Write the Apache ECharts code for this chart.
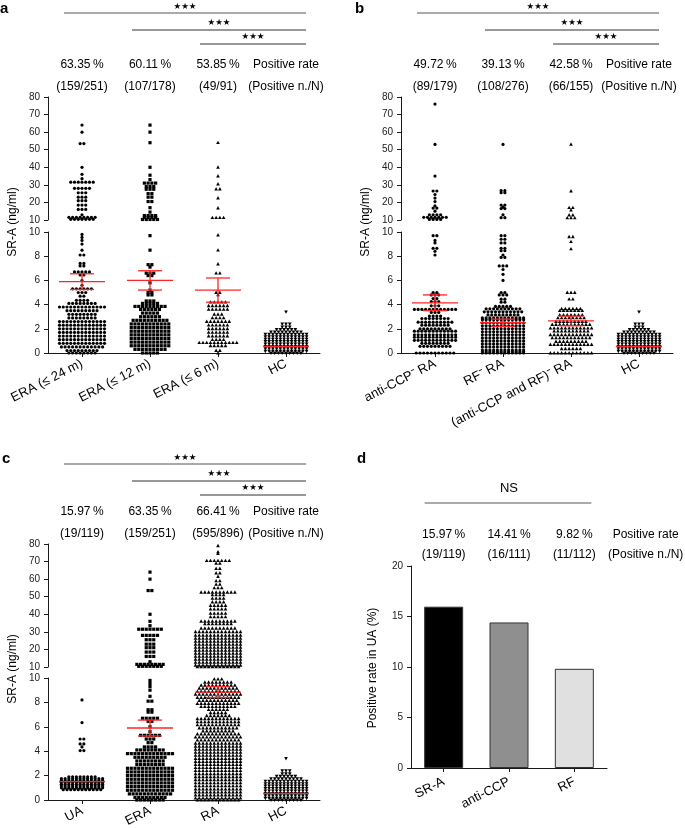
<!DOCTYPE html>
<html><head><meta charset="utf-8">
<script src="https://cdn.jsdelivr.net/npm/echarts@6/dist/echarts.min.js"></script>
<style>html,body{margin:0;padding:0;background:#fff}#c{width:685px;height:828px}</style>
</head><body><div id="c"></div>
<script>
// ---------------- DATA ----------------
const catsA = ['ERA (\u2264 24 m)', 'ERA (\u2264 12 m)', 'ERA (\u2264 6 m)', 'HC'];
const catsB = ['anti-CCP\u207B RA', 'RF\u207B RA', '(anti-CCP and RF)\u207B RA', 'HC'];
const catsC = ['UA', 'ERA', 'RA', 'HC'];
const catsD = ['SR-A', 'anti-CCP', 'RF'];

const upperTicks = [10, 20, 30, 40, 50, 60, 70, 80];
const lowerTicks = [0, 2, 4, 6, 8, 10];
const dTicks = [0, 5, 10, 15, 20];

// rows of the binned dot plots: [SR-A value (ng/ml), number of dots in the row]
const era24 = [[64,1],[60,1],[53.5,2],[40,1],[36,1],[33.5,1],[31.5,7],[28,5],[25.5,3],[23,3],[21,3],[18.5,3],[16,3],[13,1],[11.5,8],[10.4,7],
  [9.8,1],[9.55,1],[9.3,1],[9.0,1],[8.5,1],[8.1,2],[7.4,2],[7.2,2],[6.7,5],[6.45,2],[6.0,1],[5.6,1],[5.3,6],[5.0,3],[4.7,2],[4.35,4],[4.1,8],[3.8,13],[3.5,9],[3.2,8],[2.9,8],[2.6,13],[2.3,13],[2.0,13],[1.7,13],[1.4,13],[1.1,13],[0.8,13],[0.5,12],[0.2,9],[0.0,8]];
const era12 = [[64,1],[60,1],[54,1],[40,1],[35.5,1],[33,1],[31,4],[29,3],[27.5,3],[25,2],[23,2],[20.5,2],[17,1],[14.5,1],[12.5,4],[11.5,4],[10.3,5],
  [9.7,1],[8.5,1],[7.3,2],[7.1,1],[6.6,3],[6.4,2],[5.8,1],[5.2,1],[5.0,2],[4.8,2],[4.3,3],[4.1,5],[3.85,9],[3.6,6],[3.3,5],[3.0,6],[2.7,10],[2.4,11],[2.1,11],[1.8,11],[1.5,11],[1.2,11],[0.9,11],[0.6,11],[0.3,9],[0.0,5]];
const era6 = [[54,1],[40,1],[35,1],[30.5,1],[27.6,2],[22.5,1],[16.8,1],[11.3,4],
  [9.75,1],[8.5,1],[7.35,1],[6.6,2],[5.0,2],[4.8,1],[4.2,5],[3.9,6],[3.6,6],[3.2,3],[2.9,4],[2.6,7],[2.3,6],[2.0,6],[1.7,6],[1.4,6],[1.1,4],[0.85,11],[0.6,5],[0.2,2],[0.0,1]];
const hc = [[3.4,1],[2.4,3],[2.15,3],[1.95,6],[1.75,9],[1.55,12],[1.35,12],[1.15,12],[0.95,12],[0.75,12],[0.55,12],[0.35,12],[0.15,12],[0.0,9]];
const antiCcpNeg = [[76,1],[53,1],[35,1],[26.5,2],[24.5,1],[22.5,1],[20.5,1],[18,1],[16.8,2],[15,1],[13,4],[11.5,7],[10.3,4],
  [9.7,2],[9.3,1],[9.1,1],[8.65,2],[8.4,1],[8.1,1],[5.0,2],[4.8,3],[4.5,2],[4.25,3],[3.9,3],[3.6,12],[3.35,3],[3.05,4],[2.85,8],[2.55,10],[2.3,8],[2.0,9],[1.8,12],[1.5,12],[1.3,12],[1.05,12],[0.8,8],[0.55,9],[0.0,11]];
const rfNeg = [[53,1],[26.7,2],[25.5,2],[18.5,2],[17.3,1],[16.5,2],[13,1],[11.3,2],
  [9.7,2],[9.4,2],[9.1,2],[8.65,2],[8.45,2],[8.1,1],[7.9,2],[7.2,3],[6.9,1],[6.5,1],[6.0,1],[5.0,2],[4.8,3],[4.45,2],[4.2,2],[3.85,5],[3.65,10],[3.4,11],[3.15,9],[2.9,12],[2.75,12],[2.5,12],[2.25,12],[2.0,12],[1.75,12],[1.5,12],[1.25,12],[1.0,12],[0.75,12],[0.5,12],[0.25,12],[0.1,12],[0.0,12]];
const doubleNeg = [[53,1],[26.5,1],[17,2],[15.6,1],[12.8,2],[11.2,3],
  [9.6,2],[9.2,1],[8.6,1],[5.0,3],[4.45,2],[3.65,6],[3.5,7],[3.15,7],[2.9,8],[2.6,9],[2.35,11],[2.05,12],[1.8,10],[1.5,12],[1.25,11],[0.95,9],[0.7,12],[0.35,6],[0.0,12]];
const ua = [[8.2,1],[6.35,1],[5.0,2],[4.6,2],[4.35,1],[4.05,2],[1.9,8],[1.75,12],[1.6,12],[1.45,12],[1.3,12],[1.15,12],[1.0,12],[0.85,11]];
const ra = [[79,1],[75.5,1],[74.5,1],[70.5,7],[69,2],[66,2],[63.5,2],[61.5,1],[59,2],[57,2],[55,3],[52.5,10],[51,4],[49,4],[47,4],[45,5],[43,5],[40.5,5],[38.5,5],[36,10],[34.5,8],[32,10],[30,13],[28,13],[26.3,13],[24.6,13],[22.9,13],[21.2,13],[19.5,13],[17.8,13],[16.1,13],[14.4,13],[12.7,13],[11,13],[10.1,12],
  [9.9,3],[9.65,8],[9.4,10],[9.15,11],[8.9,12],[8.65,13],[8.4,12],[8.15,11],[7.9,12],[7.65,10],[7.4,6],[7.15,5],[6.9,7],[6.65,12],[6.4,12],[6.15,12],[5.9,11],[5.65,9],[5.4,12],[5.15,13],[4.9,12],[4.65,13],[4.4,13],[4.15,13],[3.9,13],[3.65,13],[3.4,13],[3.15,13],[2.9,13],[2.65,13],[2.4,13],[2.15,13],[1.9,13],[1.65,13],[1.4,13],[1.15,13],[0.9,13],[0.65,13],[0.4,13],[0.15,13],[0.0,12]];

// mean, lower SEM, upper SEM
const meansA = [[5.9,5.25,6.55],[6.0,5.2,6.8],[5.2,4.2,6.2],[0.55,0.55,0.55]];
const meansB = [[4.15,3.5,4.8],[2.5,2.2,2.8],[2.65,2.25,3.05],[0.55,0.55,0.55]];
const meansC = [[1.5,1.5,1.5],[5.9,5.25,6.55],[8.85,8.4,9.3],[0.55,0.55,0.55]];

const rateA = ['63.35\u2009%', '60.11\u2009%', '53.85\u2009%', 'Positive rate'];
const fracA = ['(159/251)', '(107/178)', '(49/91)', '(Positive n./N)'];
const rateB = ['49.72\u2009%', '39.13\u2009%', '42.58\u2009%', 'Positive rate'];
const fracB = ['(89/179)', '(108/276)', '(66/155)', '(Positive n./N)'];
const rateC = ['15.97\u2009%', '63.35\u2009%', '66.41\u2009%', 'Positive rate'];
const fracC = ['(19/119)', '(159/251)', '(595/896)', '(Positive n./N)'];
const rateD = ['15.97\u2009%', '14.41\u2009%', '9.82\u2009%', 'Positive rate'];
const fracD = ['(19/119)', '(16/111)', '(11/112)', '(Positive n./N)'];

const dValues = [15.97, 14.41, 9.82];

// ---------------- STYLE / LAYOUT ----------------
const FONT = '"Liberation Sans", Arial, Helvetica, sans-serif';
const INK = '#1a1a1a';
const RED = '#ff2424';
const dColors = ['#000000', '#8f8f8f', '#e0e0e0'];
const DOT_SP = 3.75;

const chart = echarts.init(document.getElementById('c'), null, {renderer: 'canvas', width: 685, height: 828});

const grids = [
  {left: 48, top: 97, width: 272, height: 123},
  {left: 48, top: 232, width: 272, height: 121},
  {left: 401, top: 97, width: 272, height: 123},
  {left: 401, top: 232, width: 272, height: 121},
  {left: 48, top: 544, width: 272, height: 123},
  {left: 48, top: 678, width: 272, height: 122},
  {left: 411, top: 566, width: 196, height: 202}
].map(g => Object.assign({containLabel: false, outerBoundsMode: 'none'}, g));

const lineSty = {color: INK, width: 1};
function yAxis(gi, ticks) {
  return {type: 'value', gridIndex: gi, min: ticks[0], max: ticks[ticks.length - 1], interval: ticks[1] - ticks[0],
    axisLine: {show: true, lineStyle: lineSty}, axisTick: {show: true, length: 4, lineStyle: lineSty},
    axisLabel: {fontSize: 10, color: '#222', margin: 8, fontFamily: FONT, showMinLabel: true, showMaxLabel: true},
    splitLine: {show: false}};
}
function xAxisShown(gi, cats, rot, margin) {
  return {type: 'category', gridIndex: gi, data: cats, boundaryGap: true,
    axisLine: {show: true, onZero: false, lineStyle: lineSty},
    axisTick: {show: true, alignWithLabel: true, length: 4, lineStyle: lineSty},
    axisLabel: {interval: 0, rotate: rot, fontSize: 13, color: '#000', margin: margin, fontFamily: FONT},
    splitLine: {show: false}};
}
function xAxisHidden(gi, cats) {
  return {type: 'category', gridIndex: gi, data: cats, boundaryGap: true, show: false};
}

function shapeEl(shape, x, y) {
  const st = {fill: '#000'};
  if (shape === 'circle') return {type: 'circle', shape: {cx: x, cy: y, r: 1.6}, style: st};
  if (shape === 'square') return {type: 'rect', shape: {x: x - 1.6, y: y - 1.6, width: 3.2, height: 3.2}, style: st};
  if (shape === 'up') return {type: 'polygon', shape: {points: [[x, y - 2.0], [x - 1.85, y + 1.4], [x + 1.85, y + 1.4]]}, style: st};
  return {type: 'polygon', shape: {points: [[x, y + 2.0], [x - 1.85, y - 1.4], [x + 1.85, y - 1.4]]}, style: st};
}
function makeRender(shape) {
  return function (params, api) {
    const c = api.value(0), v = api.value(1), n = api.value(2);
    const p = api.coord([c, v]);
    const kids = [];
    for (let i = 0; i < n; i++) kids.push(shapeEl(shape, p[0] + (i - (n - 1) / 2) * DOT_SP, p[1]));
    return {type: 'group', children: kids};
  };
}
function errRender(params, api) {
  const c = api.value(0), m = api.value(1), lo = api.value(2), hi = api.value(3);
  const pm = api.coord([c, m]), pl = api.coord([c, lo]), ph = api.coord([c, hi]);
  const st = {stroke: RED, lineWidth: 1.3};
  const kids = [{type: 'line', shape: {x1: pm[0] - 23, y1: pm[1], x2: pm[0] + 23, y2: pm[1]}, style: st}];
  if (hi > lo) {
    kids.push({type: 'line', shape: {x1: pl[0], y1: pl[1], x2: ph[0], y2: ph[1]}, style: st});
    kids.push({type: 'line', shape: {x1: pl[0] - 12, y1: pl[1], x2: pl[0] + 12, y2: pl[1]}, style: st});
    kids.push({type: 'line', shape: {x1: ph[0] - 12, y1: ph[1], x2: ph[0] + 12, y2: ph[1]}, style: st});
  }
  return {type: 'group', children: kids};
}

const series = [];
function addDots(rows, cat, shape, upIdx, lowIdx) {
  const up = rows.filter(r => r[0] >= 10).map(r => [cat, r[0], r[1]]);
  const lo = rows.filter(r => r[0] < 10).map(r => [cat, r[0], r[1]]);
  series.push({type: 'custom', xAxisIndex: upIdx, yAxisIndex: upIdx, data: up, renderItem: makeRender(shape), clip: false, z: 2, silent: true, animation: false});
  series.push({type: 'custom', xAxisIndex: lowIdx, yAxisIndex: lowIdx, data: lo, renderItem: makeRender(shape), clip: false, z: 2, silent: true, animation: false});
}
function addErr(means, lowIdx) {
  series.push({type: 'custom', xAxisIndex: lowIdx, yAxisIndex: lowIdx, data: means.map((m, i) => [i, m[0], m[1], m[2]]), renderItem: errRender, clip: false, z: 5, silent: true, animation: false});
}

addDots(era24, 0, 'circle', 0, 1); addDots(era12, 1, 'square', 0, 1); addDots(era6, 2, 'up', 0, 1); addDots(hc, 3, 'down', 0, 1);
addErr(meansA, 1);
addDots(antiCcpNeg, 0, 'circle', 2, 3); addDots(rfNeg, 1, 'circle', 2, 3); addDots(doubleNeg, 2, 'up', 2, 3); addDots(hc, 3, 'down', 2, 3);
addErr(meansB, 3);
addDots(ua, 0, 'circle', 4, 5); addDots(era24, 1, 'square', 4, 5); addDots(ra, 2, 'up', 4, 5); addDots(hc, 3, 'down', 4, 5);
addErr(meansC, 5);

series.push({type: 'bar', xAxisIndex: 6, yAxisIndex: 6, barWidth: 39, animation: false, silent: true,
  data: dValues.map((v, i) => ({value: v, itemStyle: {color: dColors[i], borderColor: '#333', borderWidth: 1}}))});

chart.setOption({
  animation: false,
  backgroundColor: '#fff',
  grid: grids,
  xAxis: [xAxisHidden(0, catsA), xAxisShown(1, catsA, 27, 10), xAxisHidden(2, catsB), xAxisShown(3, catsB, 27, 10),
          xAxisHidden(4, catsC), xAxisShown(5, catsC, 27, 10), xAxisShown(6, catsD, 27, 13)],
  yAxis: [yAxis(0, upperTicks), yAxis(1, lowerTicks), yAxis(2, upperTicks), yAxis(3, lowerTicks),
          yAxis(4, upperTicks), yAxis(5, lowerTicks), yAxis(6, dTicks)],
  series: series
});

// ---------------- ANNOTATIONS ----------------
function cx(ax, i) { return chart.convertToPixel({xAxisIndex: ax}, i); }
const els = [];
function txt(x, y, s, size, opts) {
  opts = opts || {};
  els.push({type: 'text', x: x, y: y, rotation: opts.rot || 0, silent: true,
    style: {text: s, fill: opts.fill || '#000', fontSize: size, fontFamily: opts.family || FONT, fontWeight: opts.bold ? 'bold' : 'normal',
      align: opts.align || 'center', verticalAlign: 'middle', textAlign: opts.align || 'center', textVerticalAlign: 'middle'}});
}
function ln(x1, y1, x2, y2, col) {
  els.push({type: 'line', silent: true, shape: {x1: x1, y1: y1, x2: x2, y2: y2}, style: {stroke: col || '#444', lineWidth: 1}});
}
function dotPanel(ax, letter, lx, ly, lineYs, starYs, rowYs, rates, fracs, yTitleX, yTitleY) {
  txt(lx, ly, letter, 15, {bold: true, align: 'left'});
  const c = [0, 1, 2, 3].map(i => cx(ax, i));
  for (let k = 0; k < 3; k++) {
    const x1 = c[k] - 18, x2 = c[3] + 20;
    ln(x1, lineYs[k], x2, lineYs[k], k === 0 ? '#555' : '#333');
    txt((x1 + x2) / 2, starYs[k], '\u2605\u2605\u2605', 8.5, {family: '"DejaVu Sans", sans-serif'});
  }
  for (let i = 0; i < 4; i++) {
    txt(c[i], rowYs[0], rates[i], 12);
    txt(c[i], rowYs[1], fracs[i], 12);
  }
  txt(yTitleX, yTitleY, 'SR-A (ng/ml)', 12, {rot: Math.PI / 2});
}
dotPanel(1, 'a', 0, 9, [13, 30, 44], [7, 23, 37], [65, 87], rateA, fracA, 13, 222);
dotPanel(3, 'b', 355, 9, [13, 30, 44], [7, 23, 37], [65, 87], rateB, fracB, 366, 222);
dotPanel(5, 'c', 2, 459, [464, 481, 495], [458, 474, 488], [512, 534], rateC, fracC, 13, 669);

// panel d
txt(357, 459, 'd', 15, {bold: true, align: 'left'});
const dc = [0, 1, 2].map(i => cx(6, i));
dc.push(dc[2] + (dc[2] - dc[1]) + 6);
txt((dc[0] + dc[2]) / 2, 488, 'NS', 13);
ln(dc[0] - 19, 503, dc[2] + 17, 503, '#555');
for (let i = 0; i < 4; i++) { txt(dc[i], 535, rateD[i], 12); txt(dc[i], 555, fracD[i], 12); }
txt(373, 668, 'Positive rate in UA (%)', 12, {rot: Math.PI / 2});

chart.setOption({graphic: {elements: els}});
</script>
</body></html>
